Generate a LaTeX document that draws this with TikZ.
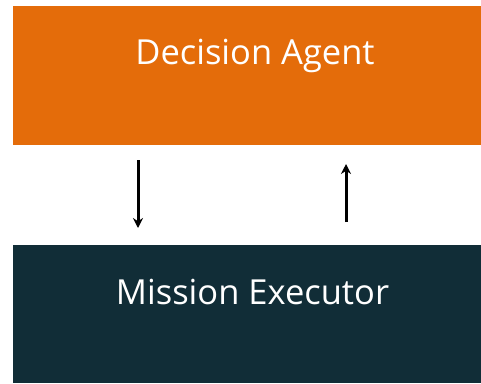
\documentclass[tikz,border=0pt]{standalone}
\usepackage{fontspec}
\setmainfont{Open Sans}
\usetikzlibrary{arrows.meta}
\definecolor{agentorange}{HTML}{E46C0A}
\definecolor{execdark}{HTML}{112D37}
\begin{document}
\begin{tikzpicture}[x=1pt,y=-1pt,
  boxstyle/.style={minimum width=468pt, inner sep=0pt, outer sep=0pt, anchor=north west},
  labelstyle/.style={text=white, font=\fontsize{34.5}{40}\selectfont, inner sep=0pt, anchor=base},
  arrowstyle/.style={line width=3pt, -{Stealth[length=10pt,width=10pt]}}]
\useasboundingbox (0,0) rectangle (481,383);
\fill[white] (0,0) rectangle (481,383);
\node[boxstyle, fill=agentorange, minimum height=139pt] (agent) at (13,6) {};
\node[boxstyle, fill=execdark, minimum height=138pt] (exec) at (13,245) {};
\node[labelstyle] (agenttext) at (255,64) {Decision Agent};
\node[labelstyle] (exectext) at (252.5,304) {Mission Executor};
\coordinate (d1) at (138,160);
\coordinate (d2) at (138,228);
\coordinate (u1) at (346,222);
\coordinate (u2) at (346,164);
\draw[arrowstyle] (d1) -- (d2);
\draw[arrowstyle] (u1) -- (u2);
\end{tikzpicture}
\end{document}
